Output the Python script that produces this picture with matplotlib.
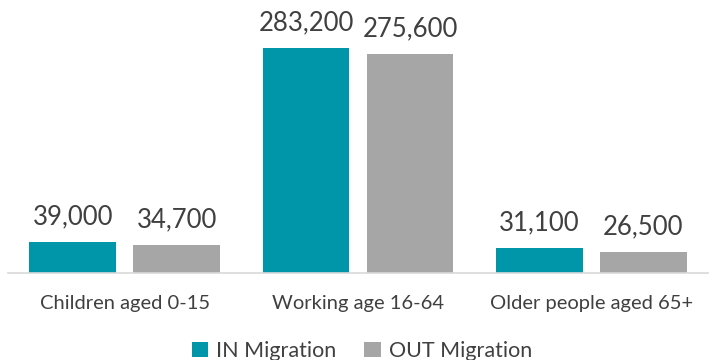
import numpy as np
import matplotlib
matplotlib.use("Agg")
import matplotlib.pyplot as plt

categories = ["Children aged 0-15", "Working age 16-64", "Older people aged 65+"]
in_migration = [39000, 283200, 31100]
out_migration = [34700, 275600, 26500]
series_names = ["IN Migration", "OUT Migration"]

TEAL = "#0096AA"
GREY = "#A6A6A6"
TEXT = "#404040"

plt.rcParams["font.family"] = ["Lato", "DejaVu Sans"]

fig = plt.figure(figsize=(7.13, 3.6), dpi=100)
ax = fig.add_axes([8 / 713, 87.3 / 360, 700 / 713, 238 / 360])

x = np.arange(len(categories))
width = 0.371
offset = 0.223

b1 = ax.bar(x - offset, in_migration, width, color=TEAL, label=series_names[0])
b2 = ax.bar(x + offset, out_migration, width, color=GREY, label=series_names[1])

for bars, vals in ((b1, in_migration), (b2, out_migration)):
    for rect, v in zip(bars, vals):
        ax.annotate(f"{v:,}", (rect.get_x() + rect.get_width() / 2, v),
                    xytext=(0, 9), textcoords="offset points",
                    ha="center", va="bottom", fontsize=18.5, color=TEXT)

ax.set_xlim(-0.5, len(categories) - 0.5)
ax.set_ylim(0, 300000)
ax.set_xticks(x)
ax.set_xticklabels(categories, fontsize=14.5, color=TEXT)
ax.tick_params(axis="x", length=0, pad=16)
ax.set_yticks([])
for side in ("top", "right", "left"):
    ax.spines[side].set_visible(False)
ax.spines["bottom"].set_color("#D9D9D9")
ax.spines["bottom"].set_linewidth(1.2)

# legend sits at the very bottom edge, below the category labels
fig.legend(handles=[b1, b2], loc="center", bbox_to_anchor=(362 / 713, 9 / 360),
           ncol=2, frameon=False, fontsize=15.5, labelcolor=TEXT,
           handlelength=0.75, handleheight=0.75, handletextpad=0.4,
           columnspacing=1.3)

fig.savefig("out.png", dpi=100)
